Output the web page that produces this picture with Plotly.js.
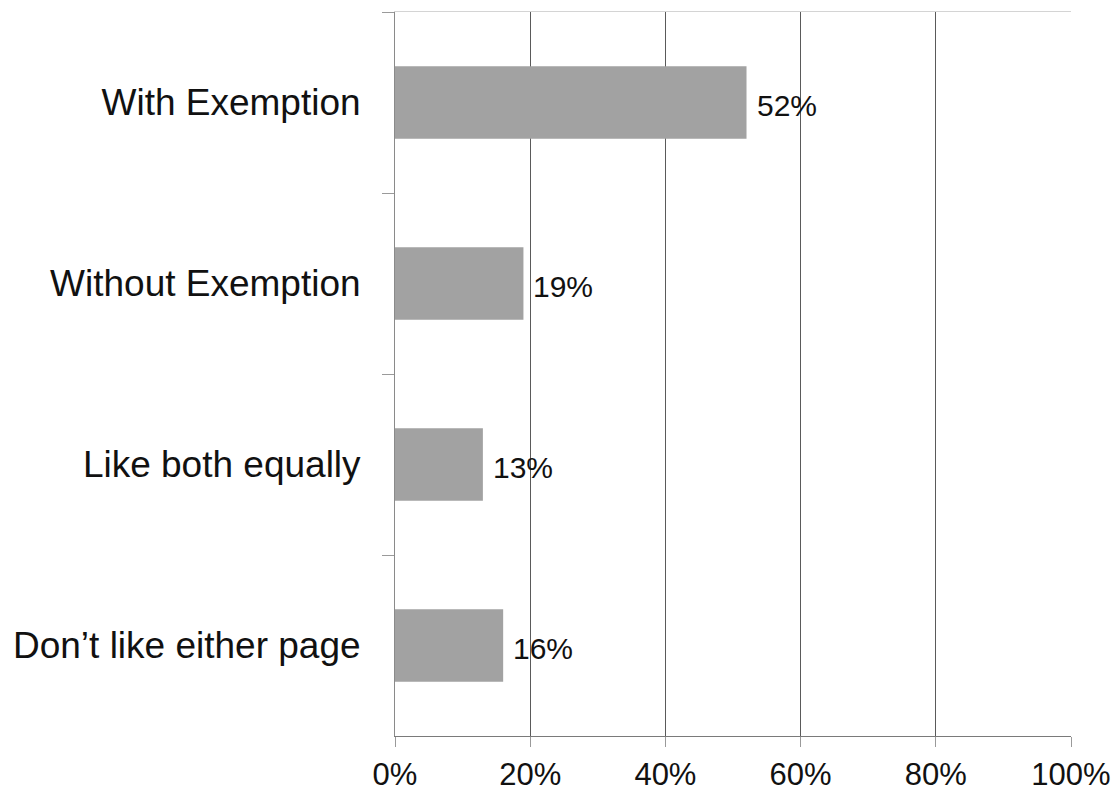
<!DOCTYPE html>
<html>
<head>
<meta charset="utf-8">
<script src="https://cdn.plot.ly/plotly-3.0.1.min.js"></script>
<style>
  html, body { margin: 0; padding: 0; background: #ffffff; }
  #chart { width: 1115px; height: 791px; }
</style>
</head>
<body>
<div id="chart"></div>
<script>
// Page preference survey
const categories = [
  "With Exemption",
  "Without Exemption",
  "Like both equally",
  "Don\u2019t like either page"
];
const shares = [52, 19, 13, 16];
const valueLabels = ["52%", "19%", "13%", "16%"];
const xTickValues = [0, 20, 40, 60, 80, 100];
const xTickLabels = ["0%", "20%", "40%", "60%", "80%", "100%"];
const innerGridValues = [20, 40, 60, 80];
const edgeGridValues = [100];

const FONT = "Liberation Sans, Arial, Helvetica, sans-serif";

const bars = {
  type: "bar",
  orientation: "h",
  x: shares,
  y: categories,
  marker: { color: "#a2a2a2", line: { width: 0 } },
  hoverinfo: "skip",
  showlegend: false
};

// empty traces so the overlay axes (frame and grid) get drawn
function helperTrace(xa) {
  return {
    type: "scatter",
    mode: "none",
    x: [0, 100],
    y: [categories[0], categories[0]],
    xaxis: xa,
    yaxis: "y",
    hoverinfo: "skip",
    showlegend: false
  };
}

const labels = shares.map((v, i) => ({
  x: v,
  y: categories[i],
  xref: "x",
  yref: "y",
  text: valueLabels[i],
  showarrow: false,
  xanchor: "left",
  yanchor: "middle",
  xshift: 8,
  yshift: -3,
  font: { family: FONT, size: 30, color: "#111111" }
}));

const overlayBase = {
  range: [0, 100],
  overlaying: "x",
  anchor: "y",
  zeroline: false,
  showticklabels: false,
  ticks: "",
  fixedrange: true
};

const layout = {
  width: 1115,
  height: 791,
  margin: { l: 395, r: 44, t: 12, b: 55, pad: 0 },
  paper_bgcolor: "#ffffff",
  plot_bgcolor: "#ffffff",
  bargap: 0.6,
  font: { family: FONT, color: "#111111" },
  xaxis: {
    range: [0, 100],
    tickvals: xTickValues,
    ticktext: xTickLabels,
    showgrid: false,
    zeroline: false,
    showline: true,
    linecolor: "#7a7a7a",
    linewidth: 1,
    ticks: "outside",
    ticklen: 10,
    tickcolor: "#9a9a9a",
    tickwidth: 1,
    ticklabelstandoff: 1,
    tickfont: { family: FONT, size: 31, color: "#111111" },
    fixedrange: true
  },
  // top frame line
  xaxis2: Object.assign({}, overlayBase, {
    side: "top",
    showgrid: false,
    showline: true,
    linecolor: "#d4d4d4",
    linewidth: 1
  }),
  // dark inner gridlines
  xaxis3: Object.assign({}, overlayBase, {
    side: "bottom",
    showline: false,
    tickvals: innerGridValues,
    showgrid: true,
    gridcolor: "#5a5a5a",
    gridwidth: 1
  }),
  // light right-edge gridline
  xaxis4: Object.assign({}, overlayBase, {
    side: "bottom",
    showline: false,
    tickvals: edgeGridValues,
    showgrid: true,
    gridcolor: "#aaaaaa",
    gridwidth: 2
  }),
  yaxis: {
    type: "category",
    categoryorder: "array",
    categoryarray: categories,
    autorange: "reversed",
    showgrid: false,
    zeroline: false,
    showline: true,
    linecolor: "#8a8a8a",
    linewidth: 1,
    ticks: "outside",
    tickson: "boundaries",
    ticklen: 12,
    tickcolor: "#9a9a9a",
    tickwidth: 1,
    ticklabelstandoff: 26,
    tickfont: { family: FONT, size: 37, color: "#111111" },
    fixedrange: true
  },
  annotations: labels
};

Plotly.newPlot(
  "chart",
  [helperTrace("x3"), helperTrace("x4"), bars, helperTrace("x2")],
  layout,
  { displayModeBar: false, staticPlot: true }
);
</script>
</body>
</html>
